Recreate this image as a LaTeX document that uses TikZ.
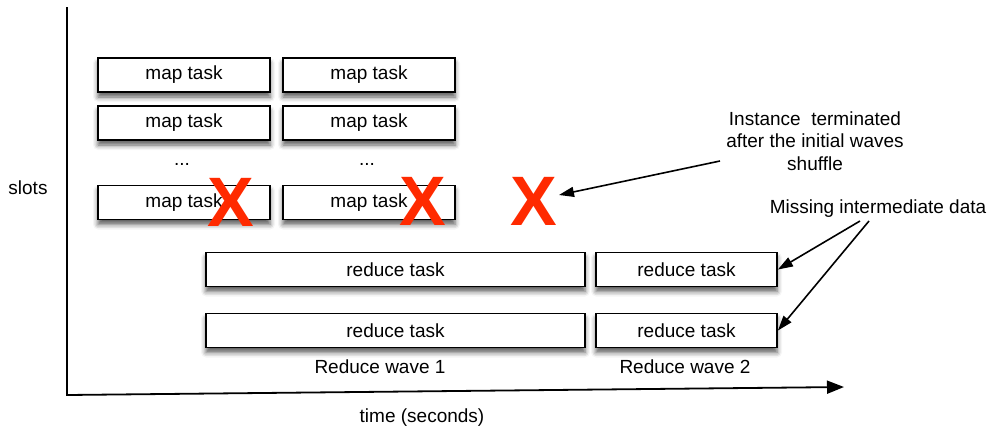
\documentclass[tikz,border=0pt]{standalone}
\usepackage{fontspec}
\setmainfont{Liberation Sans}
\usetikzlibrary{arrows.meta,shadows.blur}
\definecolor{xred}{HTML}{FF2A00}
\begin{document}
\begin{tikzpicture}[x=1pt,y=-1pt,
  txt/.style={font=\fontsize{19}{22.5}\selectfont, inner sep=0pt},
  taskbox/.style={draw=black, line width=1.8pt, fill=white, minimum height=34pt, inner sep=0pt,
    font=\fontsize{19}{22.5}\selectfont,
    blur shadow={shadow xshift=0pt, shadow yshift=-5pt, shadow blur radius=5pt, shadow opacity=65}},
  maptask/.style={taskbox, minimum width=172pt},
  redlong/.style={taskbox, minimum width=379pt},
  redshort/.style={taskbox, minimum width=181pt},
  cross/.style={text=xred, font=\fontsize{70}{70}\selectfont\bfseries, inner sep=0pt},
  axis/.style={line width=1.8pt, -{Triangle[length=17pt,width=13pt]}},
  pointer/.style={line width=1.6pt, -{Triangle[length=15pt,width=10pt]}}
]
\useasboundingbox (0,0) rectangle (987,429);

% axes
\coordinate (ytop) at (67,7);
\coordinate (origin) at (67,395);
\coordinate (xend) at (844,387);
\draw[axis] (ytop) -- (origin) -- (xend);
\node[txt] (slots) at (28,188) {slots};
\node[txt] (time) at (422,418) {time (seconds)};

% map tasks
\node[maptask] (m11) at (184,75) {map task};
\node[maptask] (m12) at (369,75) {map task};
\node[maptask] (m21) at (184,123) {map task};
\node[maptask] (m22) at (369,123) {map task};
\node[txt] (d1) at (182,164) {...};
\node[txt] (d2) at (367,164) {...};
\node[maptask] (m41) at (184,202.5) {map task};
\node[maptask] (m42) at (369,202.5) {map task};

% reduce tasks
\node[redlong] (r11) at (395.5,269.5) {reduce task};
\node[redlong] (r21) at (395.5,330.5) {reduce task};
\node[redshort] (r12) at (686.5,269.5) {reduce task};
\node[redshort] (r22) at (686.5,330.5) {reduce task};
\node[txt] (w1) at (380,367) {Reduce wave 1};
\node[txt] (w2) at (685,367) {Reduce wave 2};

% crosses
\node[cross] (x1) at (231,202) {X};
\node[cross] (x2) at (423,201) {X};
\node[cross] (x3) at (534,201) {X};

% annotations
\node[txt, align=center] (inst) at (815,141) {Instance\ \ terminated\\after the initial waves\\shuffle};
\node[txt] (miss) at (878,209) {Missing intermediate data};

\coordinate (a1) at (720,161);
\coordinate (a1e) at (559,195);
\draw[pointer] (a1) -- (a1e);
\coordinate (b1) at (860,221);
\coordinate (b2) at (869,221);
\draw[pointer] (b1) -- (r12.east);
\draw[pointer] (b2) -- (r22.east);
\end{tikzpicture}
\end{document}
